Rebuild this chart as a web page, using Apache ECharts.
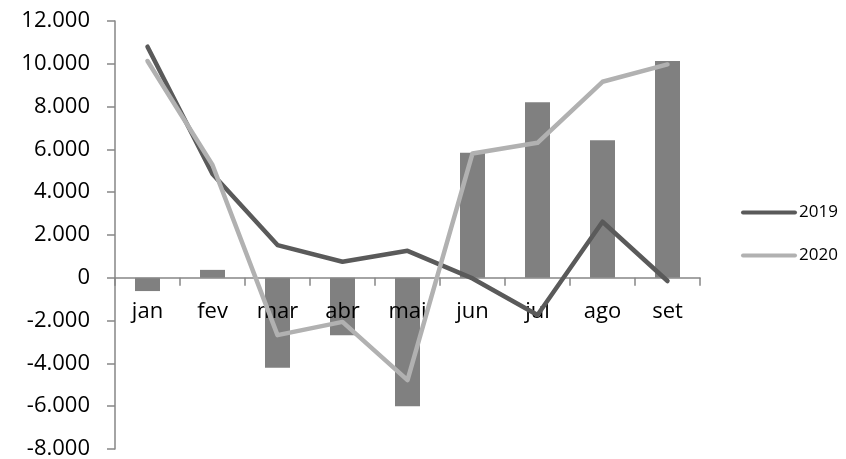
<!DOCTYPE html>
<html>
<head>
<meta charset="utf-8">
<script src="https://cdn.jsdelivr.net/npm/echarts@6/dist/echarts.min.js"></script>
<style>
  html, body { margin: 0; padding: 0; background: #fff; }
  #chart { width: 846px; height: 459px; }
</style>
</head>
<body>
<div id="chart"></div>
<script>
// Meses (jan–set)
const meses = ['jan', 'fev', 'mar', 'abr', 'mai', 'jun', 'jul', 'ago', 'set'];

// Diferença mensal (barras)
const diferenca = [-620, 370, -4200, -2680, -6000, 5840, 8200, 6430, 10130];

// Série 2019 (linha escura)
const serie2019 = [10800, 4850, 1530, 750, 1260, -30, -1740, 2620, -150];

// Série 2020 (linha clara)
const serie2020 = [10130, 5270, -2680, -2060, -4780, 5810, 6310, 9160, 9970];

// Escala do eixo vertical
const eixoMin = -8000;
const eixoMax = 12000;
const eixoPasso = 2000;

const fonte = '"Open Sans", "Noto Sans", sans-serif';
const corEixo = '#868686';

// Área de plotagem
const grade = { left: 115, right: 146, top: 21, bottom: 10 };
const alturaGrade = 459 - grade.top - grade.bottom;
// Deslocamento do eixo de categorias até a linha do zero
const deslocZero = -alturaGrade * (0 - eixoMin) / (eixoMax - eixoMin);

// Formato pt-BR: separador de milhar com ponto
function formatar(v) {
  const neg = v < 0;
  const s = String(Math.abs(v)).replace(/\B(?=(\d{3})+(?!\d))/g, '.');
  return (neg ? '-' : '') + s;
}

// Ícone de legenda: traço com pontas arredondadas
const iconeTraco = 'path://M2,0 L54,0 A2,2 0 0 1 54,4 L2,4 A2,2 0 0 1 2,0 Z';

const chart = echarts.init(document.getElementById('chart'), null, { renderer: 'canvas' });

chart.setOption({
  animation: false,
  backgroundColor: '#ffffff',
  grid: Object.assign({ containLabel: false, outerBoundsMode: 'none' }, grade),
  legend: {
    data: [
      { name: '2019', icon: iconeTraco },
      { name: '2020', icon: iconeTraco }
    ],
    orient: 'vertical',
    left: 741,
    top: 204,
    padding: 0,
    itemWidth: 56,
    itemHeight: 4.5,
    itemGap: 26,
    textStyle: { fontFamily: fonte, fontSize: 17, color: '#000', padding: [0, 0, 0, -3] }
  },
  xAxis: {
    type: 'category',
    data: meses,
    boundaryGap: true,
    offset: deslocZero,
    z: 2,
    axisLine: { onZero: false, lineStyle: { color: corEixo, width: 1.5 } },
    axisTick: { show: true, length: 8, inside: false, alignWithLabel: false, lineStyle: { color: corEixo, width: 1.5 } },
    axisLabel: { fontFamily: fonte, fontSize: 22, color: '#000', margin: 23 },
    splitLine: { show: false }
  },
  yAxis: {
    type: 'value',
    min: eixoMin,
    max: eixoMax,
    interval: eixoPasso,
    axisLine: { show: true, lineStyle: { color: corEixo, width: 1.5 } },
    axisTick: { show: true, length: 8, inside: false, lineStyle: { color: corEixo, width: 1.5 } },
    axisLabel: { fontFamily: fonte, fontSize: 22, color: '#000', margin: 25, formatter: formatar },
    splitLine: { show: false }
  },
  series: [
    {
      name: 'diferença',
      type: 'bar',
      data: diferenca,
      barWidth: 25,
      itemStyle: { color: '#808080' },
      z: 1
    },
    {
      name: '2019',
      type: 'line',
      data: serie2019,
      symbol: 'none',
      lineStyle: { color: '#5a5a5a', width: 4.5, cap: 'round', join: 'round' },
      itemStyle: { color: '#5a5a5a' },
      z: 3
    },
    {
      name: '2020',
      type: 'line',
      data: serie2020,
      symbol: 'none',
      lineStyle: { color: '#b1b1b1', width: 4.5, cap: 'round', join: 'round' },
      itemStyle: { color: '#b1b1b1' },
      z: 4
    }
  ]
});
</script>
</body>
</html>
